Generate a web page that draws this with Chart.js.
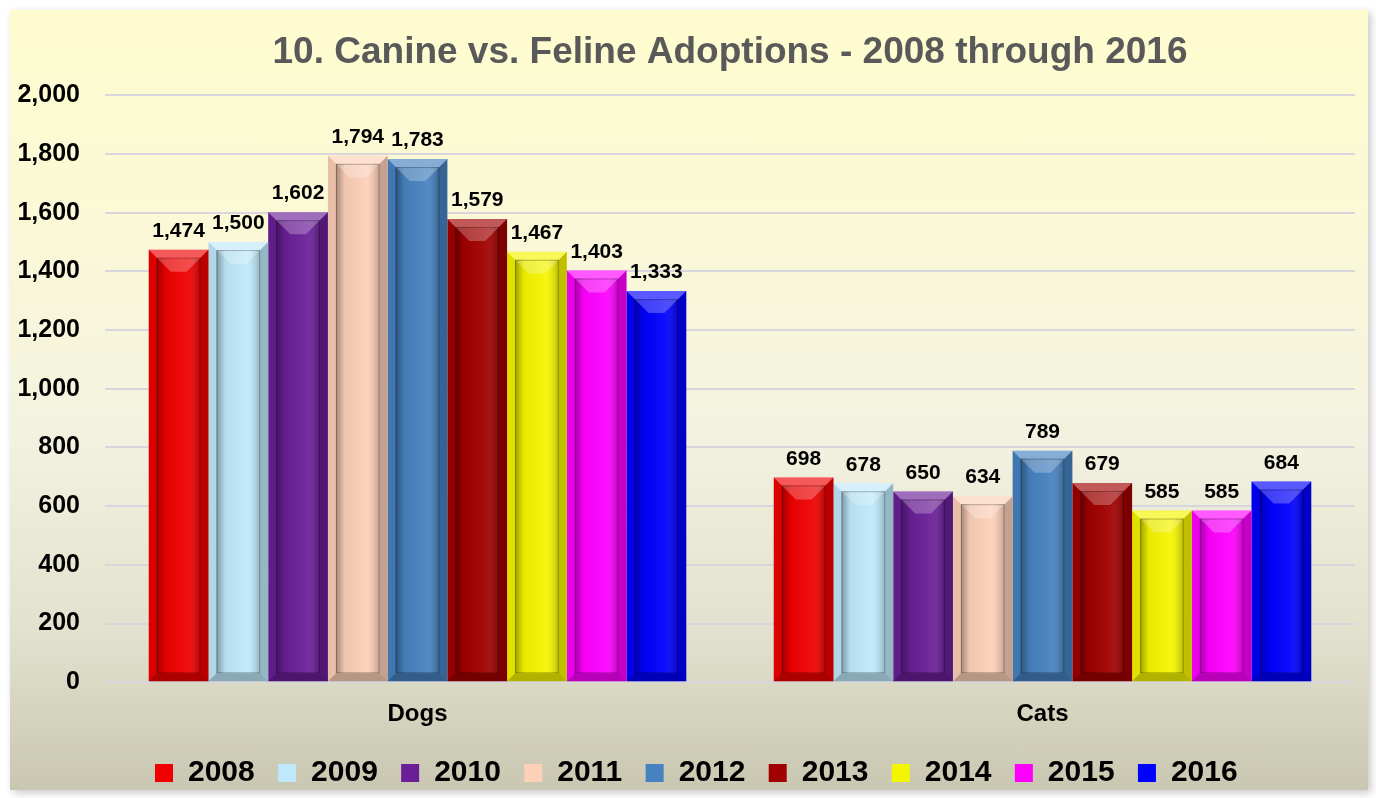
<!DOCTYPE html>
<html>
<head>
<meta charset="utf-8">
<script src="https://cdn.jsdelivr.net/npm/chart.js@4"></script>
<style>
  html, body { margin: 0; padding: 0; background: #ffffff; }
  #panel {
    position: absolute; left: 10px; top: 10px; width: 1358px; height: 780px;
    background: linear-gradient(to bottom, #fefcce 0%, #fbf9d6 25%, #f3f2e0 55%, #e2e1cd 80%, #c9c7b1 100%);
    box-shadow: 3px 3px 8px rgba(0,0,0,0.22);
  }
  #chart { display: block; }
</style>
</head>
<body>
<div id="panel"><canvas id="chart" width="1358" height="780"></canvas></div>
<script>
const categories = ["Dogs", "Cats"];
const years = ["2008", "2009", "2010", "2011", "2012", "2013", "2014", "2015", "2016"];
const dogs = [1474, 1500, 1602, 1794, 1783, 1579, 1467, 1403, 1333];
const cats = [698, 678, 650, 634, 789, 679, 585, 585, 684];
const colors = ["#f00000", "#bfe9fb", "#6a1f97", "#fdd0b8", "#4682bf", "#a10000", "#f5f500", "#ff00ff", "#0000ff"];

const FONT = "'Liberation Sans', Arial, sans-serif";

// bevel look on each bar, using the bar element geometry from chart.js
const bevel = {
  id: "bevel",
  afterDatasetsDraw(chart) {
    const ctx = chart.ctx;
    chart.data.datasets.forEach((ds, di) => {
      chart.getDatasetMeta(di).data.forEach(bar => {
        const l = bar.x - bar.width / 2, r = bar.x + bar.width / 2;
        const t = bar.y, b = bar.base;
        const i = 8;
        ctx.save();
        const poly = (pts, fill) => {
          ctx.beginPath();
          ctx.moveTo(pts[0][0], pts[0][1]);
          pts.slice(1).forEach(p => ctx.lineTo(p[0], p[1]));
          ctx.closePath();
          ctx.fillStyle = fill;
          ctx.fill();
        };
        poly([[l, t], [r, t], [r - i, t + i], [l + i, t + i]], "rgba(255,255,255,0.35)");
        poly([[l, t], [l + i, t + i], [l + i, b - i], [l, b]], "rgba(0,0,0,0.08)");
        poly([[r, t], [r, b], [r - i, b - i], [r - i, t + i]], "rgba(0,0,0,0.22)");
        poly([[l, b], [l + i, b - i], [r - i, b - i], [r, b]], "rgba(0,0,0,0.28)");
        // recessed inner panel
        const g = ctx.createLinearGradient(l + i, 0, r - i, 0);
        g.addColorStop(0, "rgba(0,0,0,0.35)");
        g.addColorStop(0.2, "rgba(0,0,0,0.05)");
        g.addColorStop(0.7, "rgba(255,255,255,0.06)");
        g.addColorStop(1, "rgba(0,0,0,0.25)");
        ctx.fillStyle = g;
        ctx.fillRect(l + i, t + i, r - l - 2 * i, b - t - 2 * i);
        const ih = Math.min(14, (b - t - 2 * i) / 3);
        poly([[l + i, t + i], [r - i, t + i], [r - i - ih, t + i + ih], [l + i + ih, t + i + ih]], "rgba(255,255,255,0.25)");
        ctx.strokeStyle = "rgba(0,0,0,0.25)";
        ctx.lineWidth = 1;
        ctx.strokeRect(l + i + 0.5, t + i + 0.5, r - l - 2 * i - 1, b - t - 2 * i - 1);
        ctx.restore();
      });
    });
  }
};

const valueLabels = {
  id: "valueLabels",
  afterDatasetsDraw(chart) {
    const ctx = chart.ctx;
    ctx.save();
    ctx.font = "bold 21px " + FONT;
    ctx.fillStyle = "#000000";
    ctx.textAlign = "center";
    ctx.textBaseline = "bottom";
    chart.data.datasets.forEach((ds, di) => {
      chart.getDatasetMeta(di).data.forEach((bar, j) => {
        ctx.fillText(ds.data[j].toLocaleString("en-US"), bar.x, bar.y - 8);
      });
    });
    ctx.restore();
  }
};

// nudge the legend a bit to the right, as in the original
const legendShift = {
  id: "legendShift",
  afterLayout(chart) {
    if (chart.legend) { chart.legend.left += 18; chart.legend.right += 18; }
  }
};

const datasets = years.map((y, k) => ({
  label: y,
  data: [dogs[k], cats[k]],
  backgroundColor: colors[k],
  borderWidth: 0,
  categoryPercentage: 0.86,
  barPercentage: 1.0
}));

new Chart(document.getElementById("chart").getContext("2d"), {
  type: "bar",
  data: { labels: categories, datasets },
  options: {
    responsive: false,
    animation: false,
    layout: { padding: { left: 0, right: 13, top: 0, bottom: -8 } },
    plugins: {
      title: {
        display: true,
        fullSize: false,
        text: "10. Canine vs. Feline Adoptions - 2008 through 2016",
        color: "#595959",
        font: { family: FONT, size: 37, weight: "bold" },
        padding: { top: 21, bottom: 20 }
      },
      legend: {
        position: "bottom",
        labels: {
          color: "#000000",
          font: { family: FONT, size: 30, weight: "bold" },
          boxWidth: 18,
          boxHeight: 18,
          padding: 15,
          generateLabels: chart => chart.data.datasets.map((ds, k) => ({
            text: ds.label + " ",
            fillStyle: ds.backgroundColor,
            strokeStyle: ds.backgroundColor,
            lineWidth: 0,
            hidden: false,
            datasetIndex: k
          }))
        }
      },
      tooltip: { enabled: false }
    },
    scales: {
      x: {
        grid: { display: false },
        border: { display: false },
        afterFit: s => { s.height += 4; },
        ticks: { color: "#000000", font: { family: FONT, size: 24, weight: "bold" }, padding: 10 }
      },
      y: {
        min: 0,
        max: 2000,
        afterFit: s => { s.width = 95; },
        ticks: {
          stepSize: 200,
          color: "#000000",
          font: { family: FONT, size: 25, weight: "bold" },
          padding: 25,
          callback: v => v.toLocaleString("en-US")
        },
        grid: { color: "#d6d6dc", lineWidth: 2, drawTicks: false },
        border: { display: false }
      }
    }
  },
  plugins: [bevel, valueLabels, legendShift]
});
</script>
</body>
</html>
